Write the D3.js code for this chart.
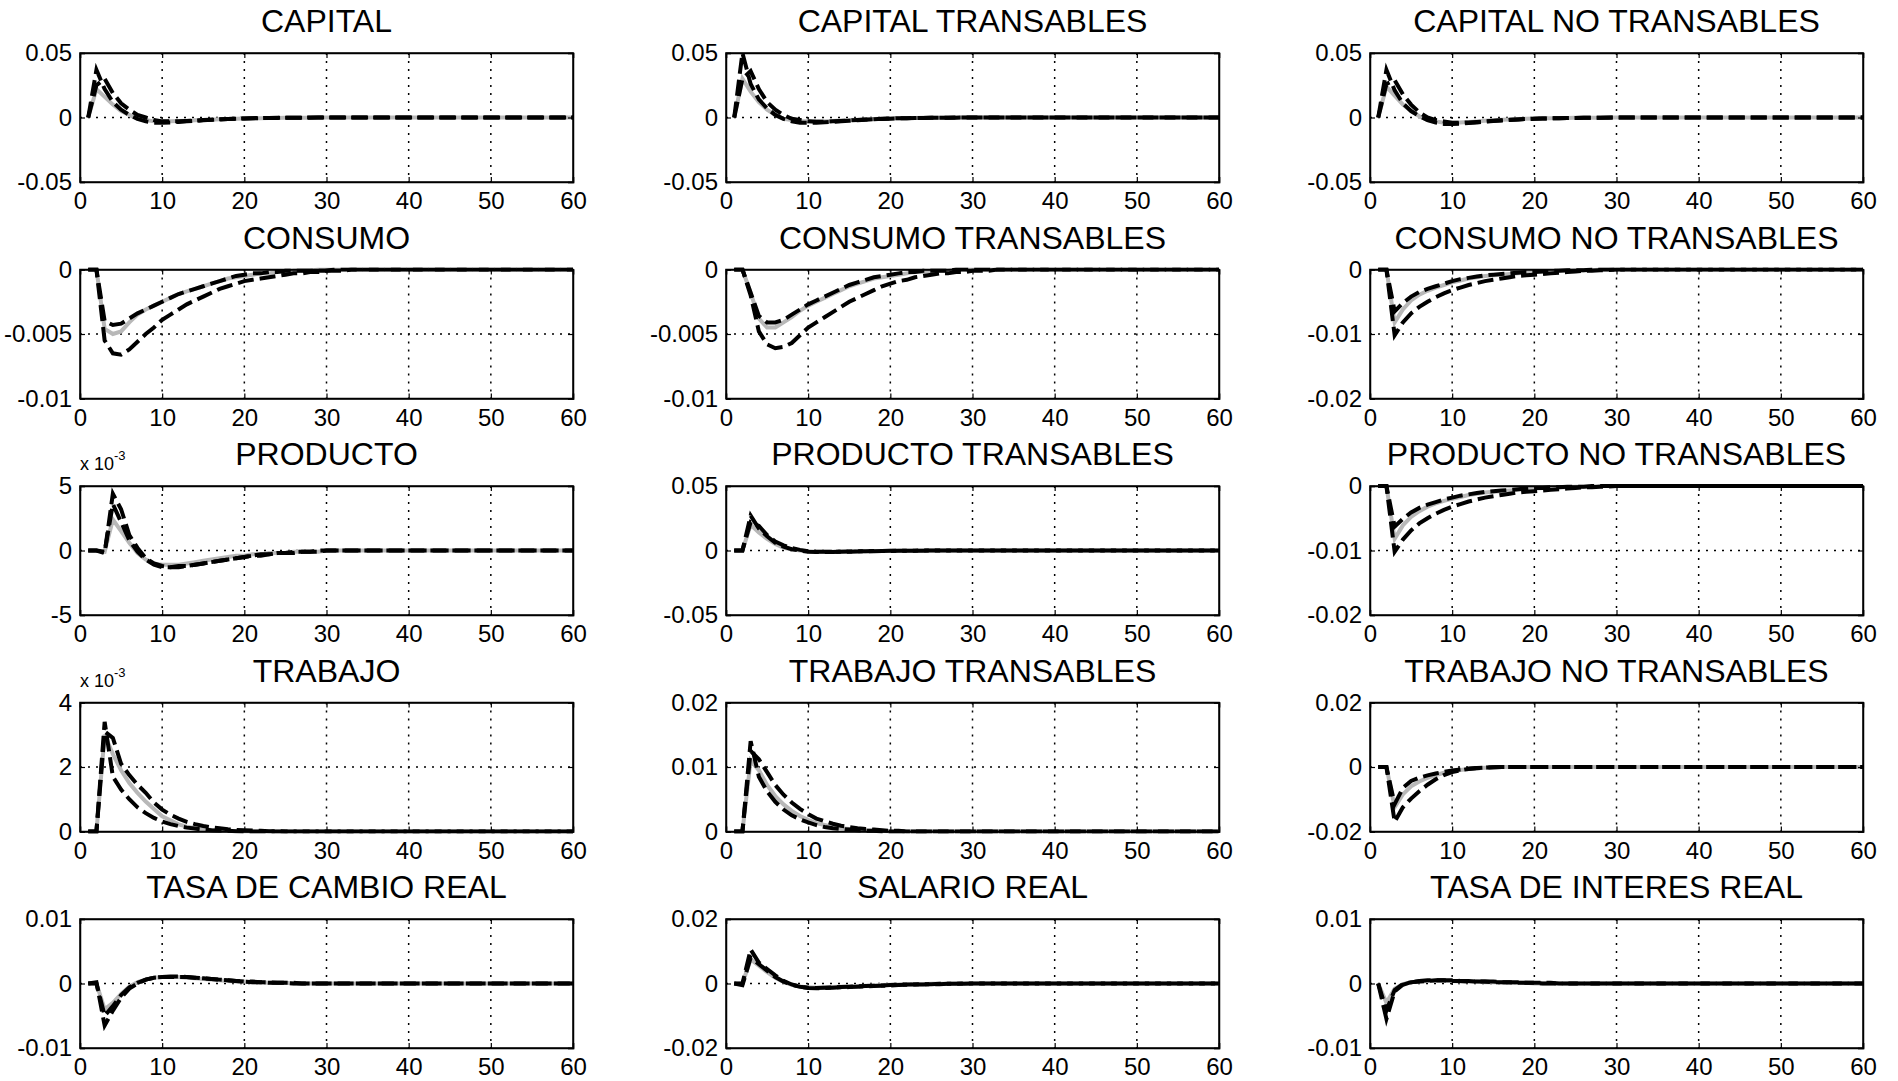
<!DOCTYPE html>
<html>
<head>
<meta charset="utf-8">
<script src="https://cdn.jsdelivr.net/npm/d3@7"></script>
<style>
  body { margin: 0; background: #fff; }
  svg text { font-family: "Liberation Sans", Arial, sans-serif; fill: #000; }
</style>
</head>
<body>
<script>
// horizon and axes
const periods = d3.range(1, 61);
const xTicks = [0, 10, 20, 30, 40, 50, 60];

const panelTitles = [
  'CAPITAL', 'CAPITAL TRANSABLES', 'CAPITAL NO TRANSABLES',
  'CONSUMO', 'CONSUMO TRANSABLES', 'CONSUMO NO TRANSABLES',
  'PRODUCTO', 'PRODUCTO TRANSABLES', 'PRODUCTO NO TRANSABLES',
  'TRABAJO', 'TRABAJO TRANSABLES', 'TRABAJO NO TRANSABLES',
  'TASA DE CAMBIO REAL', 'SALARIO REAL', 'TASA DE INTERES REAL'
];
const yTickValues = [
  [-0.05, 0, 0.05], [-0.05, 0, 0.05], [-0.05, 0, 0.05],
  [-0.01, -0.005, 0], [-0.01, -0.005, 0], [-0.02, -0.01, 0],
  [-0.005, 0, 0.005], [-0.05, 0, 0.05], [-0.02, -0.01, 0],
  [0, 0.002, 0.004], [0, 0.01, 0.02], [-0.02, 0, 0.02],
  [-0.01, 0, 0.01], [-0.02, 0, 0.02], [-0.01, 0, 0.01]
];
const yTickLabels = [
  ['-0.05', '0', '0.05'], ['-0.05', '0', '0.05'], ['-0.05', '0', '0.05'],
  ['-0.01', '-0.005', '0'], ['-0.01', '-0.005', '0'], ['-0.02', '-0.01', '0'],
  ['-5', '0', '5'], ['-0.05', '0', '0.05'], ['-0.02', '-0.01', '0'],
  ['0', '2', '4'], ['0', '0.01', '0.02'], ['-0.02', '0', '0.02'],
  ['-0.01', '0', '0.01'], ['-0.02', '0', '0.02'], ['-0.01', '0', '0.01']
];
const exponents = [null, null, null, null, null, null, '-3', null, null, '-3', null, null, null, null, null];

// CAPITAL
const capitalGray = [0,.022,.016,.01,.005,.002,-.001,-.002,-.003,-.003,
  -.003,-.0028,-.0025,-.0022,-.002,-.0017,-.0014,-.0012,-.001,-.0008,
  -.0006,-.0005,-.0004,-.0003,-.0002,-.0002,-.0001,-.0001,0,0,
  0,0,0,0,0,0,0,0,0,0, 0,0,0,0,0,0,0,0,0,0, 0,0,0,0,0,0,0,0,0,0];
const capitalDashA = [0,.037,.022,.012,.006,.002,-.001,-.003,-.004,-.004,
  -.0038,-.0034,-.003,-.0026,-.0022,-.0018,-.0015,-.0012,-.001,-.0008,
  -.0006,-.0005,-.0004,-.0003,-.0002,-.0002,-.0001,-.0001,0,0,
  0,0,0,0,0,0,0,0,0,0, 0,0,0,0,0,0,0,0,0,0, 0,0,0,0,0,0,0,0,0,0];
const capitalDashB = [0,.025,.03,.019,.011,.006,.002,0,-.002,-.003,
  -.003,-.003,-.0027,-.0024,-.002,-.0017,-.0014,-.0011,-.0009,-.0007,
  -.0005,-.0004,-.0003,-.0002,-.0002,-.0001,-.0001,0,0,0,
  0,0,0,0,0,0,0,0,0,0, 0,0,0,0,0,0,0,0,0,0, 0,0,0,0,0,0,0,0,0,0];

// CAPITAL TRANSABLES
const capTGray = [0,.03,.02,.012,.006,.002,-.001,-.002,-.003,-.003,
  -.003,-.003,-.0027,-.0024,-.002,-.0017,-.0014,-.0011,-.0009,-.0007,
  -.0005,-.0004,-.0003,-.0002,-.0002,-.0001,-.0001,0,0,0,
  0,0,0,0,0,0,0,0,0,0, 0,0,0,0,0,0,0,0,0,0, 0,0,0,0,0,0,0,0,0,0];
const capTDashA = [0,.05,.026,.014,.007,.002,-.001,-.003,-.004,-.004,
  -.004,-.0037,-.0033,-.0029,-.0025,-.0021,-.0017,-.0014,-.0011,-.0009,
  -.0007,-.0005,-.0004,-.0003,-.0002,-.0002,-.0001,-.0001,0,0,
  0,0,0,0,0,0,0,0,0,0, 0,0,0,0,0,0,0,0,0,0, 0,0,0,0,0,0,0,0,0,0];
const capTDashB = [0,.03,.036,.022,.012,.006,.002,-.001,-.002,-.003,
  -.0032,-.0032,-.003,-.0027,-.0023,-.002,-.0016,-.0013,-.001,-.0008,
  -.0006,-.0005,-.0004,-.0003,-.0002,-.0001,-.0001,0,0,0,
  0,0,0,0,0,0,0,0,0,0, 0,0,0,0,0,0,0,0,0,0, 0,0,0,0,0,0,0,0,0,0];

// CAPITAL NO TRANSABLES
const capNGray = [0,.024,.017,.01,.005,.001,-.002,-.003,-.004,-.004,
  -.0038,-.0035,-.003,-.0026,-.0022,-.0018,-.0015,-.0012,-.001,-.0008,
  -.0006,-.0005,-.0004,-.0003,-.0002,-.0002,-.0001,-.0001,0,0,
  0,0,0,0,0,0,0,0,0,0, 0,0,0,0,0,0,0,0,0,0, 0,0,0,0,0,0,0,0,0,0];
const capNDashA = [0,.037,.021,.011,.005,.001,-.002,-.004,-.005,-.005,
  -.0047,-.0043,-.0038,-.0033,-.0028,-.0023,-.0019,-.0015,-.0012,-.001,
  -.0008,-.0006,-.0005,-.0004,-.0003,-.0002,-.0002,-.0001,-.0001,0,
  0,0,0,0,0,0,0,0,0,0, 0,0,0,0,0,0,0,0,0,0, 0,0,0,0,0,0,0,0,0,0];
const capNDashB = [0,.026,.029,.018,.01,.004,0,-.002,-.003,-.004,
  -.004,-.0038,-.0034,-.003,-.0026,-.0022,-.0018,-.0015,-.0012,-.001,
  -.0008,-.0006,-.0005,-.0004,-.0003,-.0002,-.0001,-.0001,0,0,
  0,0,0,0,0,0,0,0,0,0, 0,0,0,0,0,0,0,0,0,0, 0,0,0,0,0,0,0,0,0,0];

// CONSUMO
const consGray = [0,0,-.0046,-.005,-.0048,-.0041,-.0035,-.0031,-.0028,-.0025,
  -.0022,-.0019,-.0017,-.0015,-.0013,-.0011,-.0009,-.0007,-.0006,-.0005,
  -.0004,-.0003,-.0003,-.0002,-.0002,-.0001,-.0001,-.0001,0,0,
  0,0,0,0,0,0,0,0,0,0, 0,0,0,0,0,0,0,0,0,0, 0,0,0,0,0,0,0,0,0,0];
const consDashA = [0,0,-.004,-.0043,-.0042,-.0038,-.0034,-.0031,-.0028,-.0025,
  -.0022,-.0019,-.0017,-.0015,-.0013,-.0011,-.0009,-.0007,-.0005,-.0004,
  -.0003,-.0003,-.0002,-.0002,-.0001,-.0001,-.0001,-.0001,-.0001,-.0001,
  0,0,0,0,0,0,0,0,0,0, 0,0,0,0,0,0,0,0,0,0, 0,0,0,0,0,0,0,0,0,0];
const consDashB = [0,0,-.0055,-.0065,-.0066,-.0062,-.0056,-.005,-.0045,-.0039,
  -.0035,-.0031,-.0027,-.0024,-.0021,-.0018,-.0015,-.0013,-.0011,-.0009,
  -.0008,-.0007,-.0006,-.0005,-.0004,-.0003,-.0003,-.0002,-.0002,-.0001,
  -.0001,-.0001,0,0,0,0,0,0,0,0, 0,0,0,0,0,0,0,0,0,0, 0,0,0,0,0,0,0,0,0,0];

// CONSUMO TRANSABLES
const consTGray = [0,0,-.0018,-.0038,-.0045,-.0045,-.0041,-.0037,-.0032,-.0028,
  -.0025,-.0022,-.0019,-.0016,-.0013,-.0011,-.0009,-.0007,-.0006,-.0005,
  -.0004,-.0003,-.0002,-.0002,-.0001,-.0001,-.0001,0,0,0,
  0,0,0,0,0,0,0,0,0,0, 0,0,0,0,0,0,0,0,0,0, 0,0,0,0,0,0,0,0,0,0];
const consTDashA = [0,0,-.0018,-.0036,-.0041,-.0041,-.0039,-.0035,-.0031,-.0027,
  -.0024,-.0021,-.0018,-.0015,-.0012,-.001,-.0008,-.0006,-.0005,-.0004,
  -.0003,-.0002,-.0002,-.0001,-.0001,-.0001,-.0001,0,0,0,
  0,0,0,0,0,0,0,0,0,0, 0,0,0,0,0,0,0,0,0,0, 0,0,0,0,0,0,0,0,0,0];
const consTDashB = [0,0,-.002,-.0048,-.0058,-.0061,-.006,-.0057,-.0051,-.0045,
  -.0041,-.0037,-.0033,-.0029,-.0025,-.0022,-.0019,-.0016,-.0013,-.0011,
  -.0009,-.0008,-.0006,-.0005,-.0004,-.0003,-.0003,-.0002,-.0002,-.0001,
  -.0001,-.0001,0,0,0,0,0,0,0,0, 0,0,0,0,0,0,0,0,0,0, 0,0,0,0,0,0,0,0,0,0];

// CONSUMO NO TRANSABLES
const consNGray = [0,0,-.0082,-.0062,-.0048,-.0039,-.0033,-.0028,-.0024,-.002,
  -.0017,-.0014,-.0012,-.001,-.0009,-.0008,-.0007,-.0006,-.0005,-.0004,
  -.0003,-.0003,-.0002,-.0002,-.0001,-.0001,-.0001,0,0,0,
  0,0,0,0,0,0,0,0,0,0, 0,0,0,0,0,0,0,0,0,0, 0,0,0,0,0,0,0,0,0,0];
const consNDashA = [0,0,-.0065,-.0052,-.0042,-.0035,-.003,-.0026,-.0022,-.0018,
  -.0015,-.0013,-.0011,-.0009,-.0008,-.0007,-.0006,-.0005,-.0004,-.0004,
  -.0003,-.0002,-.0002,-.0001,-.0001,-.0001,0,0,0,0,
  0,0,0,0,0,0,0,0,0,0, 0,0,0,0,0,0,0,0,0,0, 0,0,0,0,0,0,0,0,0,0];
const consNDashB = [0,0,-.0102,-.0082,-.0068,-.0058,-.005,-.0043,-.0037,-.0032,
  -.0028,-.0024,-.0021,-.0018,-.0016,-.0014,-.0012,-.001,-.0009,-.0008,
  -.0007,-.0006,-.0005,-.0004,-.0003,-.0002,-.0002,-.0001,-.0001,0,
  0,0,0,0,0,0,0,0,0,0, 0,0,0,0,0,0,0,0,0,0, 0,0,0,0,0,0,0,0,0,0];

// PRODUCTO
const prodGray = [0,0,-.0001,.0024,.0015,.0006,-.0002,-.0007,-.001,-.0011,
  -.0011,-.0011,-.001,-.0009,-.0008,-.0007,-.0006,-.0005,-.0004,-.0004,
  -.0003,-.0003,-.0002,-.0002,-.0002,-.0001,-.0001,-.0001,-.0001,0,
  0,0,0,0,0,0,0,0,0,0, 0,0,0,0,0,0,0,0,0,0, 0,0,0,0,0,0,0,0,0,0];
const prodDashA = [0,0,-.0002,.0044,.0032,.0012,.0002,-.0006,-.001,-.0012,
  -.0013,-.0012,-.0012,-.0011,-.001,-.0009,-.0008,-.0007,-.0006,-.0005,
  -.0004,-.0004,-.0003,-.0002,-.0002,-.0002,-.0001,-.0001,-.0001,0,
  0,0,0,0,0,0,0,0,0,0, 0,0,0,0,0,0,0,0,0,0, 0,0,0,0,0,0,0,0,0,0];
const prodDashB = [0,0,-.0001,.0036,.0022,.0008,-.0001,-.0007,-.0011,-.0013,
  -.0013,-.0013,-.0012,-.0011,-.001,-.0009,-.0008,-.0007,-.0006,-.0005,
  -.0004,-.0003,-.0003,-.0002,-.0002,-.0001,-.0001,-.0001,0,0,
  0,0,0,0,0,0,0,0,0,0, 0,0,0,0,0,0,0,0,0,0, 0,0,0,0,0,0,0,0,0,0];

// PRODUCTO TRANSABLES
const prodTGray = [0,0,.02,.014,.009,.005,.002,.001,0,-.0005,
  -.001,-.001,-.001,-.0008,-.0007,-.0006,-.0005,-.0004,-.0003,-.0002,
  -.0002,-.0001,-.0001,0,0,0,0,0,0,0,
  0,0,0,0,0,0,0,0,0,0, 0,0,0,0,0,0,0,0,0,0, 0,0,0,0,0,0,0,0,0,0];
const prodTDashA = [0,0,.027,.017,.011,.006,.003,.001,0,-.001,
  -.0012,-.0012,-.0011,-.001,-.0009,-.0007,-.0006,-.0005,-.0004,-.0003,
  -.0002,-.0002,-.0001,-.0001,0,0,0,0,0,0,
  0,0,0,0,0,0,0,0,0,0, 0,0,0,0,0,0,0,0,0,0, 0,0,0,0,0,0,0,0,0,0];
const prodTDashB = [0,0,.022,.019,.012,.007,.004,.002,.0005,-.0005,
  -.001,-.001,-.001,-.0009,-.0008,-.0006,-.0005,-.0004,-.0003,-.0002,
  -.0002,-.0001,-.0001,0,0,0,0,0,0,0,
  0,0,0,0,0,0,0,0,0,0, 0,0,0,0,0,0,0,0,0,0, 0,0,0,0,0,0,0,0,0,0];

// PRODUCTO NO TRANSABLES
const prodNGray = [0,0,-.0082,-.0061,-.0048,-.0039,-.0032,-.0027,-.0023,-.002,
  -.0017,-.0014,-.0012,-.001,-.0009,-.0008,-.0007,-.0006,-.0005,-.0004,
  -.0003,-.0003,-.0002,-.0002,-.0001,-.0001,-.0001,0,0,0,
  0,0,0,0,0,0,0,0,0,0, 0,0,0,0,0,0,0,0,0,0, 0,0,0,0,0,0,0,0,0,0];
const prodNDashA = [0,0,-.0063,-.0051,-.0041,-.0034,-.0029,-.0025,-.0021,-.0018,
  -.0015,-.0013,-.0011,-.0009,-.0008,-.0007,-.0006,-.0005,-.0004,-.0003,
  -.0003,-.0002,-.0002,-.0001,-.0001,-.0001,0,0,0,0,
  0,0,0,0,0,0,0,0,0,0, 0,0,0,0,0,0,0,0,0,0, 0,0,0,0,0,0,0,0,0,0];
const prodNDashB = [0,0,-.0102,-.0083,-.0069,-.0058,-.005,-.0043,-.0037,-.0032,
  -.0028,-.0024,-.0021,-.0018,-.0016,-.0014,-.0012,-.001,-.0009,-.0008,
  -.0007,-.0006,-.0005,-.0004,-.0003,-.0002,-.0002,-.0001,-.0001,0,
  0,0,0,0,0,0,0,0,0,0, 0,0,0,0,0,0,0,0,0,0, 0,0,0,0,0,0,0,0,0,0];

// TRABAJO
const trabGray = [0,0,.003,.0024,.0019,.0015,.0012,.00093,.0007,.00047,
  .00035,.00022,.00015,.0001,.00007,.00005,.00003,.00002,.00001,0,
  0,0,0,0,0,0,0,0,0,0, 0,0,0,0,0,0,0,0,0,0, 0,0,0,0,0,0,0,0,0,0, 0,0,0,0,0,0,0,0,0,0];
const trabDashA = [0,0,.0034,.0017,.0013,.001,.00075,.00057,.00042,.00031,
  .00023,.00017,.00012,.00009,.00006,.00004,.00003,.00002,.00001,0,
  0,0,0,0,0,0,0,0,0,0, 0,0,0,0,0,0,0,0,0,0, 0,0,0,0,0,0,0,0,0,0, 0,0,0,0,0,0,0,0,0,0];
const trabDashB = [0,0,.0031,.0029,.0021,.00175,.00145,.0012,.0009,.00068,
  .00052,.0004,.0003,.00023,.00017,.00013,.0001,.00007,.00005,.00004,
  .00003,.00002,.00001,.00001,0,0,0,0,0,0,
  0,0,0,0,0,0,0,0,0,0, 0,0,0,0,0,0,0,0,0,0, 0,0,0,0,0,0,0,0,0,0];

// TRABAJO TRANSABLES
const trabTGray = [0,0,.011,.0095,.0072,.0055,.0042,.0032,.0024,.0018,
  .0013,.001,.0007,.0005,.0004,.0003,.0002,.0001,.0001,0,
  0,0,0,0,0,0,0,0,0,0, 0,0,0,0,0,0,0,0,0,0, 0,0,0,0,0,0,0,0,0,0, 0,0,0,0,0,0,0,0,0,0];
const trabTDashA = [0,0,.014,.0085,.0062,.0046,.0034,.0025,.0019,.0014,
  .001,.0007,.0005,.0004,.0003,.0002,.0001,.0001,0,0,
  0,0,0,0,0,0,0,0,0,0, 0,0,0,0,0,0,0,0,0,0, 0,0,0,0,0,0,0,0,0,0, 0,0,0,0,0,0,0,0,0,0];
const trabTDashB = [0,0,.0125,.0112,.0092,.0072,.0057,.0045,.0035,.0027,
  .002,.0016,.0012,.0009,.0007,.0005,.0004,.0003,.0002,.0001,
  .0001,0,0,0,0,0,0,0,0,0,
  0,0,0,0,0,0,0,0,0,0, 0,0,0,0,0,0,0,0,0,0, 0,0,0,0,0,0,0,0,0,0];

// TRABAJO NO TRANSABLES
const trabNGray = [0,0,-.0125,-.0085,-.006,-.0045,-.0034,-.0025,-.0018,-.0013,
  -.0009,-.0006,-.0004,-.0002,-.0001,0,0,0,0,0,
  0,0,0,0,0,0,0,0,0,0, 0,0,0,0,0,0,0,0,0,0, 0,0,0,0,0,0,0,0,0,0, 0,0,0,0,0,0,0,0,0,0];
const trabNDashA = [0,0,-.017,-.0125,-.0098,-.0075,-.0055,-.0038,-.0025,-.0016,
  -.001,-.0006,-.0004,-.0002,-.0001,0,0,0,0,0,
  0,0,0,0,0,0,0,0,0,0, 0,0,0,0,0,0,0,0,0,0, 0,0,0,0,0,0,0,0,0,0, 0,0,0,0,0,0,0,0,0,0];
const trabNDashB = [0,0,-.0115,-.0065,-.0043,-.0033,-.0026,-.002,-.0015,-.0011,
  -.0008,-.0005,-.0003,-.0002,-.0001,0,0,0,0,0,
  0,0,0,0,0,0,0,0,0,0, 0,0,0,0,0,0,0,0,0,0, 0,0,0,0,0,0,0,0,0,0, 0,0,0,0,0,0,0,0,0,0];

// TASA DE CAMBIO REAL
const tcrGray = [0,0,-.004,-.003,-.0016,-.0005,.0002,.0006,.0009,.001,
  .001,.001,.0009,.0008,.0007,.0006,.0005,.0004,.0003,.0003,
  .0002,.0002,.0001,.0001,.0001,0,0,0,0,0,
  0,0,0,0,0,0,0,0,0,0, 0,0,0,0,0,0,0,0,0,0, 0,0,0,0,0,0,0,0,0,0];
const tcrDashA = [0,.0002,-.0065,-.0042,-.0022,-.0008,0,.0006,.0009,.001,
  .0011,.0011,.001,.0009,.0008,.0007,.0006,.0005,.0004,.0003,
  .0003,.0002,.0002,.0001,.0001,.0001,0,0,0,0,
  0,0,0,0,0,0,0,0,0,0, 0,0,0,0,0,0,0,0,0,0, 0,0,0,0,0,0,0,0,0,0];
const tcrDashB = [0,0,-.005,-.0035,-.0018,-.0006,.0001,.0006,.0009,.001,
  .001,.001,.001,.0009,.0008,.0007,.0006,.0005,.0004,.0003,
  .0002,.0002,.0001,.0001,.0001,0,0,0,0,0,
  0,0,0,0,0,0,0,0,0,0, 0,0,0,0,0,0,0,0,0,0, 0,0,0,0,0,0,0,0,0,0];

// SALARIO REAL
const salGray = [0,0,.0075,.0055,.0035,.0018,.0005,-.0004,-.0009,-.0012,
  -.0013,-.0012,-.0011,-.001,-.0009,-.0008,-.0007,-.0006,-.0005,-.0004,
  -.0003,-.0003,-.0002,-.0002,-.0001,-.0001,-.0001,0,0,0,
  0,0,0,0,0,0,0,0,0,0, 0,0,0,0,0,0,0,0,0,0, 0,0,0,0,0,0,0,0,0,0];
const salDashA = [0,0,.0105,.0065,.0045,.0025,.0008,-.0003,-.001,-.0014,
  -.0015,-.0014,-.0013,-.0012,-.0011,-.001,-.0009,-.0008,-.0007,-.0006,
  -.0005,-.0004,-.0003,-.0003,-.0002,-.0002,-.0001,-.0001,-.0001,0,
  0,0,0,0,0,0,0,0,0,0, 0,0,0,0,0,0,0,0,0,0, 0,0,0,0,0,0,0,0,0,0];
const salDashB = [0,-.0005,.008,.006,.004,.002,.0006,-.0004,-.001,-.0013,
  -.0014,-.0013,-.0012,-.0011,-.001,-.0009,-.0008,-.0007,-.0006,-.0005,
  -.0004,-.0003,-.0003,-.0002,-.0002,-.0001,-.0001,-.0001,0,0,
  0,0,0,0,0,0,0,0,0,0, 0,0,0,0,0,0,0,0,0,0, 0,0,0,0,0,0,0,0,0,0];

// TASA DE INTERES REAL
const tirGray = [0,-.003,-.0008,-.0001,.0002,.0003,.0004,.0004,.0004,.0004,
  .0003,.0003,.0003,.0002,.0002,.0002,.0001,.0001,.0001,0,
  0,0,0,0,0,0,0,0,0,0, 0,0,0,0,0,0,0,0,0,0, 0,0,0,0,0,0,0,0,0,0, 0,0,0,0,0,0,0,0,0,0];
const tirDashA = [0,-.0055,-.0012,-.0002,.0002,.0004,.0005,.0005,.0005,.0005,
  .0004,.0004,.0003,.0003,.0003,.0002,.0002,.0002,.0001,.0001,
  .0001,.0001,0,0,0,0,0,0,0,0,
  0,0,0,0,0,0,0,0,0,0, 0,0,0,0,0,0,0,0,0,0, 0,0,0,0,0,0,0,0,0,0];
const tirDashB = [0,-.0042,-.001,-.0001,.0002,.0003,.0004,.0005,.0005,.0004,
  .0004,.0003,.0003,.0003,.0002,.0002,.0002,.0001,.0001,.0001,
  0,0,0,0,0,0,0,0,0,0,
  0,0,0,0,0,0,0,0,0,0, 0,0,0,0,0,0,0,0,0,0, 0,0,0,0,0,0,0,0,0,0];

const grayLines = [capitalGray, capTGray, capNGray, consGray, consTGray, consNGray,
  prodGray, prodTGray, prodNGray, trabGray, trabTGray, trabNGray, tcrGray, salGray, tirGray];
const dashLinesA = [capitalDashA, capTDashA, capNDashA, consDashA, consTDashA, consNDashA,
  prodDashA, prodTDashA, prodNDashA, trabDashA, trabTDashA, trabNDashA, tcrDashA, salDashA, tirDashA];
const dashLinesB = [capitalDashB, capTDashB, capNDashB, consDashB, consTDashB, consNDashB,
  prodDashB, prodTDashB, prodNDashB, trabDashB, trabTDashB, trabNDashB, tcrDashB, salDashB, tirDashB];

// layout (MATLAB 5x3 subplot grid)
const width = 1898, height = 1081;
const colLeft = [80, 726, 1370];
const rowTop = [53, 269.5, 486, 702.5, 919];
const plotW = 493, plotH = 129;

const svg = d3.select('body').append('svg')
  .attr('width', width)
  .attr('height', height);

panelTitles.forEach((title, i) => {
  const col = i % 3, row = Math.floor(i / 3);
  const ticks = yTickValues[i];
  const x = d3.scaleLinear().domain([0, 60]).range([0, plotW]);
  const y = d3.scaleLinear().domain([ticks[0], ticks[2]]).range([plotH, 0]);

  const g = svg.append('g')
    .attr('transform', `translate(${colLeft[col]},${rowTop[row]})`);

  g.append('clipPath').attr('id', 'clip' + i)
    .append('rect')
    .attr('x', -1).attr('y', -2)
    .attr('width', plotW + 2).attr('height', plotH + 4);

  // dotted grid
  g.selectAll('.vgrid')
    .data(xTicks.slice(1, -1))
    .enter().append('line')
    .attr('x1', d => x(d)).attr('x2', d => x(d))
    .attr('y1', 0).attr('y2', plotH)
    .attr('stroke', '#000').attr('stroke-width', 1.5)
    .attr('stroke-dasharray', '2,6');
  g.append('line')
    .attr('x1', 0).attr('x2', plotW)
    .attr('y1', y(ticks[1])).attr('y2', y(ticks[1]))
    .attr('stroke', '#000').attr('stroke-width', 1.5)
    .attr('stroke-dasharray', '2,6');

  const line = d3.line()
    .x((d, k) => x(periods[k]))
    .y(d => y(d));

  const lines = g.append('g').attr('clip-path', `url(#clip${i})`);
  lines.append('path')
    .datum(grayLines[i])
    .attr('d', line)
    .attr('fill', 'none')
    .attr('stroke', '#b8b8b8')
    .attr('stroke-width', 4);
  lines.append('path')
    .datum(dashLinesB[i])
    .attr('d', line)
    .attr('fill', 'none')
    .attr('stroke', '#000')
    .attr('stroke-width', 4)
    .attr('stroke-dasharray', '16,6');
  lines.append('path')
    .datum(dashLinesA[i])
    .attr('d', line)
    .attr('fill', 'none')
    .attr('stroke', '#000')
    .attr('stroke-width', 4)
    .attr('stroke-dasharray', '16,6');

  // axes with inward ticks
  const xAxis = g.append('g')
    .attr('transform', `translate(0,${plotH})`)
    .call(d3.axisBottom(x).tickValues(xTicks).tickSize(-5).tickPadding(10));
  g.append('g')
    .call(d3.axisTop(x).tickValues(xTicks).tickSize(-5).tickFormat(''));
  const yAxis = g.append('g')
    .call(d3.axisLeft(y).tickValues(ticks).tickSize(-5).tickPadding(8)
      .tickFormat((d, k) => yTickLabels[i][k]));
  g.append('g')
    .attr('transform', `translate(${plotW},0)`)
    .call(d3.axisRight(y).tickValues(ticks).tickSize(-5).tickFormat(''));

  g.selectAll('.domain').attr('stroke', '#000').attr('stroke-width', 1.5);
  g.selectAll('.tick line').attr('stroke', '#000').attr('stroke-width', 1.2);
  xAxis.selectAll('text').style('font-size', '24px').attr('fill', '#000');
  yAxis.selectAll('text').style('font-size', '24px').attr('fill', '#000');

  // box
  g.append('rect')
    .attr('width', plotW).attr('height', plotH)
    .attr('fill', 'none').attr('stroke', '#000').attr('stroke-width', 1.5);

  g.append('text')
    .attr('x', plotW / 2)
    .attr('y', -21)
    .attr('text-anchor', 'middle')
    .style('font-size', '32px')
    .text(title);

  if (exponents[i]) {
    const t = g.append('text')
      .attr('x', 0)
      .attr('y', -16)
      .style('font-size', '18px');
    t.append('tspan').text('x 10');
    t.append('tspan')
      .attr('dy', -10)
      .style('font-size', '13px')
      .text(exponents[i]);
  }
});
</script>
</body>
</html>
